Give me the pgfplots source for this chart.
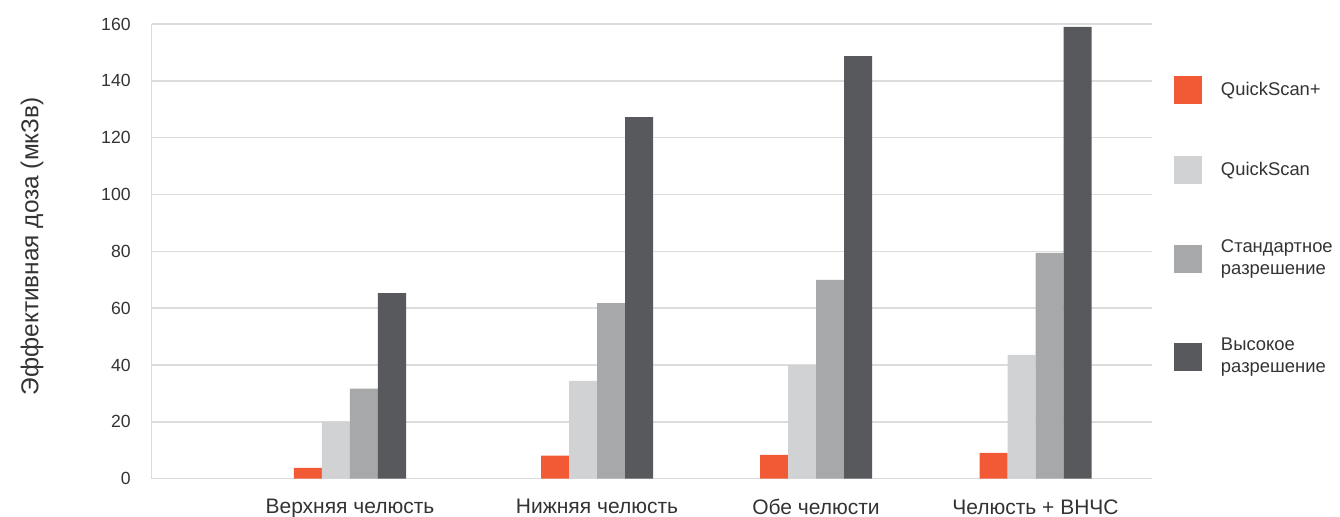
\documentclass[border=0pt]{standalone}
\usepackage{fontspec}
\setmainfont{Liberation Sans}
\usepackage{pgfplots}
\pgfplotsset{compat=1.18}
\usepackage{pgfplotstable}

\definecolor{qsplus}{HTML}{F15A35}
\definecolor{qslight}{HTML}{D1D2D4}
\definecolor{stdgray}{HTML}{A7A8AA}
\definecolor{highgray}{HTML}{58595C}
\definecolor{gridgray}{HTML}{DCDCDC}
\definecolor{txt}{HTML}{333333}

% x = group centre (axis units = px from the left edge of the plot)
\pgfplotstableread{
x     qsplus qs    std   high
198.3 3.8    20.1  31.7  65.3
445.3 8.1    34.4  61.8  127.2
664.3 8.4    40.0  70.0  148.7
883.8 9.1    43.6  79.5  159.0
}\dosedata

\pgfplotsset{
  mybar/.style={ybar, bar width=28, bar shift=0pt, draw=none, fill=#1,
    legend image code/.code={\fill[#1] (0pt,-7pt) rectangle (14pt,7pt);}},
}

\begin{document}
\begin{tikzpicture}
\useasboundingbox (-75.85pt,-19.15pt) rectangle (594.15pt,239.35pt);
\begin{axis}[
    scale only axis, width=500pt, height=227.35pt,
    xmin=0, xmax=1000, ymin=0, ymax=160,
    axis lines=left,
    axis line style={-, draw=gridgray, line width=0.8pt},
    ymajorgrids, grid style={gridgray, line width=0.8pt},
    ytick={0,20,...,160},
    xtick={198.3,445.3,664.3,883.8},
    xticklabels={Верхняя челюсть, Нижняя челюсть, Обе челюсти, Челюсть + ВНЧС},
    major tick length=0pt,
    /pgf/number format/assume math mode=true,
    tick label style={text=txt},
    yticklabel style={font=\fontsize{8.8}{10}\selectfont, anchor=east, inner sep=0pt, xshift=-10.35pt},
    xticklabel style={font=\fontsize{10.5}{12}\selectfont, anchor=north, inner sep=0pt, yshift=-10.15pt},
    ylabel={Эффективная доза (мкЗв)},
    ylabel style={font=\fontsize{12.2}{14}\selectfont, text=txt,
      at={(axis description cs:-0.1197,0.511)}, anchor=center},
    legend style={at={(1.0223,0.8856)}, anchor=north west, draw=none, fill=none,
      inner sep=0pt, outer sep=0pt, row sep=26pt, column sep=7.5pt,
      font=\fontsize{9.2}{11}\selectfont, text=txt,
      cells={anchor=west, align=left, inner sep=0pt}},
    legend cell align=left,
]
\addplot[mybar=qsplus]   table[x expr=\thisrow{x}-42, y=qsplus]{\dosedata};
\addlegendentry{QuickScan+}
\addplot[mybar=qslight]  table[x expr=\thisrow{x}-14, y=qs]{\dosedata};
\addlegendentry{QuickScan}
\addplot[mybar=stdgray]  table[x expr=\thisrow{x}+14, y=std]{\dosedata};
\addlegendentry{Стандартное\\разрешение}
\addplot[mybar=highgray] table[x expr=\thisrow{x}+42, y=high]{\dosedata};
\addlegendentry{Высокое\\разрешение}
\end{axis}
\end{tikzpicture}
\end{document}
